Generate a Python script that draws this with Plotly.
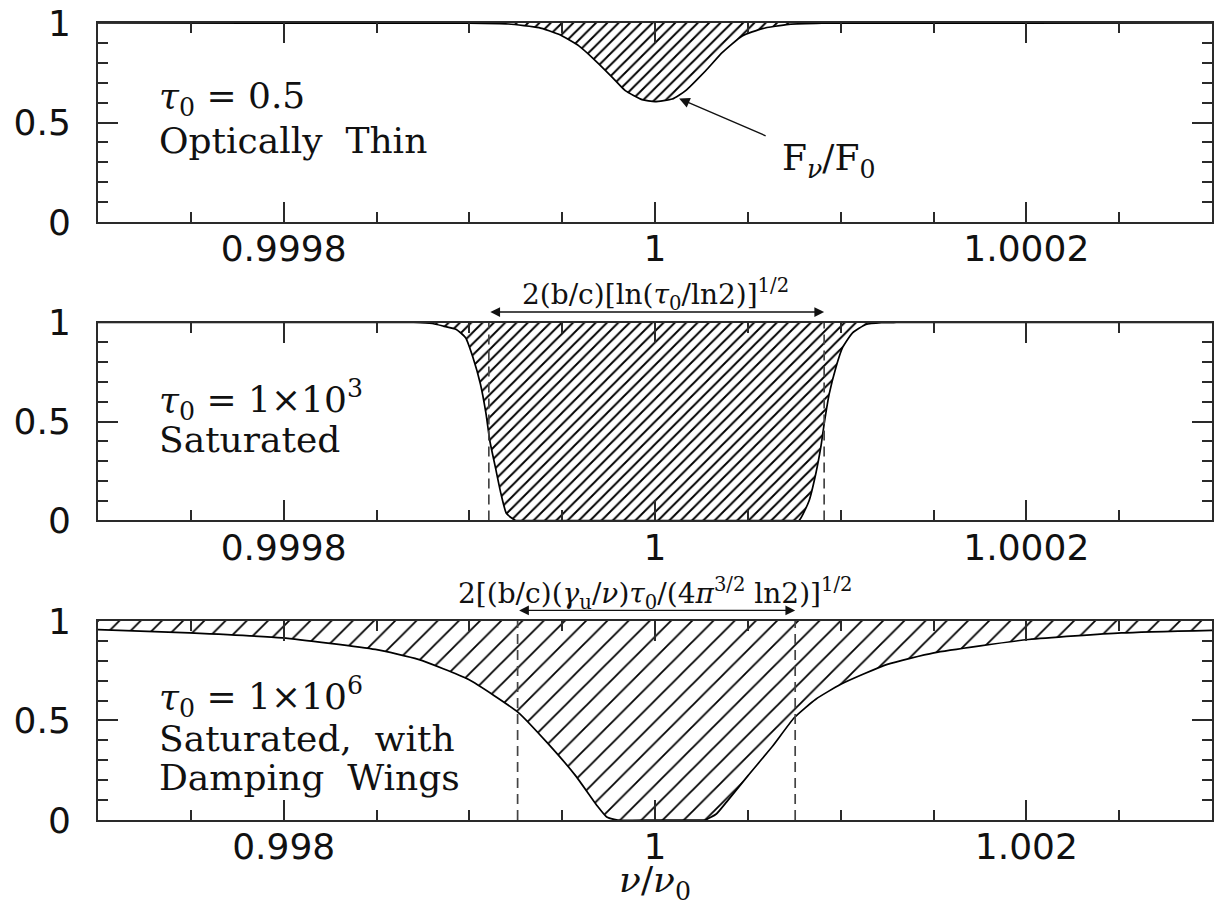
import plotly.graph_objects as go

# ---------------- data ----------------
# Panel 1: tau0 = 0.5 (optically thin)
x_top = [0.9997, 0.99990, 0.999921, 0.9999375, 0.9999482, 0.999959, 0.999968,
         0.999977, 0.999984, 0.999993, 1.0, 1.0000093, 1.0000165, 1.0000273,
         1.0000363, 1.000047, 1.0000578, 1.000072, 1.00009, 1.0003]
y_top = [1.0, 0.999, 0.995, 0.977, 0.943, 0.885, 0.81,
         0.727, 0.66, 0.615, 0.605, 0.618, 0.66, 0.76,
         0.852, 0.935, 0.972, 0.993, 0.999, 1.0]

# Panel 2: tau0 = 1e3 (saturated)
x_mid = [0.9997, 0.99987, 0.99988, 0.999886, 0.999893, 0.999898, 0.999902,
         0.999906, 0.999909, 0.999911, 0.999914, 0.999917, 0.99992, 0.999925,
         0.99993, 1.0, 1.000073, 1.0000776, 1.000083, 1.0000866, 1.0000893,
         1.0000911, 1.0000938, 1.0000974, 1.000101, 1.0001064, 1.0001136,
         1.000122, 1.00013, 1.0003]
y_mid = [1.0, 1.0, 0.995, 0.982, 0.965, 0.923, 0.822,
         0.688, 0.538, 0.404, 0.27, 0.136, 0.035, 0.0,
         0.0, 0.0, 0.0, 0.0, 0.10, 0.236, 0.37,
         0.487, 0.638, 0.772, 0.873, 0.948, 0.99,
         0.999, 1.0, 1.0]

# Panel 3: tau0 = 1e6 (saturated, damping wings)
x_bot = [0.997, 0.997493, 0.997993, 0.998494, 0.998725, 0.998994, 0.999264,
         0.999418, 0.999572, 0.999687, 0.99974, 0.9998, 1.0, 1.00022, 1.00027,
         1.00033, 1.000385, 1.000501, 1.000635, 1.000751, 1.000866, 1.001001,
         1.001251, 1.001502, 1.002012, 1.002512, 1.003]
y_bot = [0.957, 0.94, 0.915, 0.857, 0.807, 0.707, 0.54,
         0.39, 0.223, 0.073, 0.015, 0.0, 0.0, 0.0, 0.0,
         0.03, 0.09, 0.223, 0.373, 0.515, 0.607, 0.682,
         0.782, 0.84, 0.907, 0.94, 0.953]

# widths marked by dashed lines / double arrows
mid_marks = [0.9999105, 1.0000911]
bot_marks = [0.99926, 1.000755]

x_ranges = [[0.9997, 1.0003], [0.9997, 1.0003], [0.997, 1.003]]
x_tickvals = [[0.9998, 1.0, 1.0002], [0.9998, 1.0, 1.0002], [0.998, 1.0, 1.002]]
x_ticktext = [["0.9998", "1", "1.0002"], ["0.9998", "1", "1.0002"], ["0.998", "1", "1.002"]]
x_minor = [0.00005, 0.00005, 0.0005]
y_tickvals = [0, 0.5, 1]
y_ticktext = ["0", "0.5", "1"]

labels = [["<i>τ</i><sub>0</sub> = 0.5", "Optically  Thin"],
          ["<i>τ</i><sub>0</sub> = 1×10<sup>3</sup>", "Saturated"],
          ["<i>τ</i><sub>0</sub> = 1×10<sup>6</sup>", "Saturated,  with", "Damping  Wings"]]
mid_width_label = "2(b/c)[ln(<i>τ</i><sub>0</sub>/ln2)]<sup>1/2</sup>"
bot_width_label = "2[(b/c)(<i>γ</i><sub>u</sub>/<i>ν</i>)<i>τ</i><sub>0</sub>/(4<i>π</i><sup>3/2</sup> ln2)]<sup>1/2</sup>"
flux_label = "F<sub><i>ν</i></sub>/F<sub>0</sub>"
x_title = "<i>ν</i>/<i>ν</i><sub>0</sub>"

# ---------------- figure ----------------
SERIF = "DejaVu Serif"
SANS = "DejaVu Sans"
AXC = "#2a2a2a"

fig = go.Figure()
curves = [(x_top, y_top, 8, 0.24), (x_mid, y_mid, 8, 0.24), (x_bot, y_bot, 15, 0.12)]
for i, (xs, ys, psize, sol) in enumerate(curves):
    xa = "x" if i == 0 else f"x{i+1}"
    ya = "y" if i == 0 else f"y{i+1}"
    fig.add_trace(go.Scatter(x=x_ranges[i], y=[1, 1], mode="lines",
                             line=dict(width=0, color="black"), xaxis=xa, yaxis=ya,
                             showlegend=False, hoverinfo="skip"))
    fig.add_trace(go.Scatter(x=xs, y=ys, mode="lines",
                             line=dict(color="black", width=1.7, shape="spline", smoothing=0.5),
                             fill="tonexty", fillcolor="rgba(255,255,255,0)",
                             fillpattern=dict(shape="/", size=psize, solidity=sol,
                                              fgcolor="black", bgcolor="rgba(255,255,255,0)",
                                              fgopacity=1),
                             xaxis=xa, yaxis=ya, showlegend=False, hoverinfo="skip"))

for marks, xa, ya in [(mid_marks, "x2", "y2"), (bot_marks, "x3", "y3")]:
    for m in marks:
        fig.add_trace(go.Scatter(x=[m, m], y=[0, 1], mode="lines",
                                 line=dict(color="#444444", width=1.7, dash="10px,6px"),
                                 xaxis=xa, yaxis=ya, showlegend=False, hoverinfo="skip"))

domains = [[0.7503, 1.0], [0.3758, 0.6242], [0.0, 0.2497]]
for i in range(3):
    sx = "" if i == 0 else str(i + 1)
    fig.update_layout(**{
        f"xaxis{sx}": dict(range=x_ranges[i], domain=[0, 1], anchor=f"y{sx}",
                          showline=True, linecolor=AXC, linewidth=2, mirror="ticks",
                          ticks="inside", ticklen=20, tickwidth=1.6, tickcolor=AXC,
                          tickvals=x_tickvals[i], ticktext=x_ticktext[i],
                          minor=dict(ticks="inside", ticklen=10, tickwidth=1.6,
                                     tickcolor=AXC, dtick=x_minor[i], tick0=1.0),
                          showgrid=False, zeroline=False, fixedrange=True,
                          tickfont=dict(family=SANS, size=36, color="#111"),
                          ticklabelstandoff=-6),
        f"yaxis{sx}": dict(range=[0, 1], domain=domains[i], anchor=f"x{sx}",
                          showline=True, linecolor=AXC, linewidth=2, mirror="ticks",
                          ticks="inside", ticklen=20, tickwidth=1.6, tickcolor=AXC,
                          tickvals=y_tickvals, ticktext=y_ticktext,
                          minor=dict(ticks="inside", ticklen=10, tickwidth=1.6,
                                     tickcolor=AXC, dtick=0.1),
                          showgrid=False, zeroline=False, fixedrange=True,
                          tickfont=dict(family=SANS, size=36, color="#111"),
                          ticklabelstandoff=18),
    })

ann = []
# panel labels
label_y = [[0.62, 0.41], [0.61, 0.41], [0.62, 0.41, 0.215]]
for i, lines in enumerate(labels):
    sx = "" if i == 0 else str(i + 1)
    for j, t in enumerate(lines):
        ann.append(dict(text=t, xref=f"x{sx} domain", yref=f"y{sx}", x=0.053, y=label_y[i][j],
                        xanchor="left", yanchor="middle", showarrow=False,
                        font=dict(family=SERIF, size=36, color="#111")))

# flux arrow in top panel
ann.append(dict(text="", xref="x", yref="y", x=1.000013, y=0.62,
                axref="x", ayref="y", ax=1.0000604, ay=0.43,
                showarrow=True, arrowhead=2, arrowsize=1.5, arrowwidth=1.4, arrowcolor="#111"))
ann.append(dict(text=flux_label, xref="x", yref="y", x=1.0000935, y=0.31,
                showarrow=False, font=dict(family=SERIF, size=36, color="#111")))

# width arrows (placed above the panels, in domain coordinates)
for marks, sx, ytxt, lab in [(mid_marks, "2", 1.14, mid_width_label),
                             (bot_marks, "3", 1.14, bot_width_label)]:
    ann.append(dict(text="", xref=f"x{sx}", yref=f"y{sx} domain", x=marks[1], y=1.053,
                    axref=f"x{sx}", ayref=f"y{sx} domain", ax=marks[0], ay=1.053,
                    showarrow=True, arrowside="end+start", arrowhead=2, arrowsize=1.5,
                    arrowwidth=1.3, arrowcolor="#111"))
    ann.append(dict(text=lab, xref=f"x{sx}", yref=f"y{sx} domain", x=1.0,
                    y=ytxt, yanchor="middle", showarrow=False,
                    font=dict(family=SERIF, size=28, color="#111")))

ann.append(dict(text=x_title, xref="x3", yref="paper", x=1.0, y=-0.078, yanchor="middle",
                showarrow=False, font=dict(family=SERIF, size=36, color="#111")))

fig.update_layout(annotations=ann, width=1217, height=907,
                  margin=dict(l=98, r=3, t=19, b=87),
                  paper_bgcolor="white", plot_bgcolor="white")

fig.write_html("out.html")
